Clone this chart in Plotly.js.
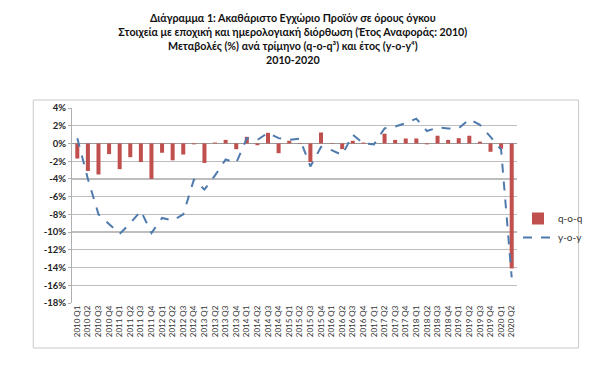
<!DOCTYPE html>
<html><head><meta charset="utf-8">
<script src="https://cdn.plot.ly/plotly-3.0.1.min.js"></script>
<style>html,body{margin:0;padding:0;background:#fff}#chart{width:600px;height:370px}</style>
</head><body><div id="chart"></div>
<script>
const quarters = ["2010 Q1","2010 Q2","2010 Q3","2010 Q4","2011 Q1","2011 Q2","2011 Q3","2011 Q4",
"2012 Q1","2012 Q2","2012 Q3","2012 Q4","2013 Q1","2013 Q2","2013 Q3","2013 Q4",
"2014 Q1","2014 Q2","2014 Q3","2014 Q4","2015 Q1","2015 Q2","2015 Q3","2015 Q4",
"2016 Q1","2016 Q2","2016 Q3","2016 Q4","2017 Q1","2017 Q2","2017 Q3","2017 Q4",
"2018 Q1","2018 Q2","2018 Q3","2018 Q4","2019 Q1","2019 Q2","2019 Q3","2019 Q4",
"2020 Q1","2020 Q2"];
const qoq = [-1.7,-3.1,-3.5,-1.2,-2.9,-1.55,-2.1,-4.0,
-1.05,-1.9,-1.25,-0.1,-2.2,0.1,0.4,-0.65,
0.75,-0.2,1.2,-1.1,0.3,0.05,-2.1,1.24,
0.05,-0.64,0.3,0.1,0.02,1.1,0.4,0.56,
0.56,-0.1,0.87,0.4,0.6,0.87,0.2,-0.94,
-0.6,-14.1];
const yoy = [0.6,-4.0,-8.0,-9.1,-10.2,-9.0,-7.6,-10.1,
-8.4,-8.7,-8.0,-4.1,-5.2,-3.6,-1.8,-2.2,
0.6,0.4,1.2,0.6,0.4,0.55,-2.6,-0.4,
-0.75,-1.3,1.0,0.0,-0.1,1.7,1.9,2.3,
2.8,1.4,1.8,1.7,1.7,2.75,2.1,0.75,
-0.7,-15.1];
const yTickVals = [4,2,0,-2,-4,-6,-8,-10,-12,-14,-16,-18];
const yTickText = ["4%","2%","0%","-2%","-4%","-6%","-8%","-10%","-12%","-14%","-16%","-18%"];
const titleText = "<b>Διάγραμμα 1: Ακαθάριστο Εγχώριο Προϊόν σε όρους όγκου<br>Στοιχεία με εποχική και ημερολογιακή διόρθωση (Έτος Αναφοράς: 2010)<br>Μεταβολές (%) ανά τρίμηνο (q-o-q³) και έτος (y-o-y⁴)<br>2010-2020</b>";

const traces = [
  {type:"bar", x:quarters, y:qoq, name:"q-o-q", marker:{color:"#C0504D"}},
  {type:"scatter", mode:"lines", x:quarters, y:yoy, name:"y-o-y",
   line:{color:"#4F7AAD", width:2, dash:"dash"}}
];
const L=72,R=520,T=108,B=303;
const pw=R-L, ph=B-T;
const layout = {
  width:600, height:370,
  margin:{l:L, r:600-R, t:T, b:370-B},
  paper_bgcolor:"#fff", plot_bgcolor:"#fff",
  font:{family:"Lato, 'Open Sans', sans-serif", color:"#222"},
  title:{text:titleText, font:{size:10.7, color:"#111", family:"Lato, 'Open Sans', sans-serif"},
         x:0.488, xanchor:"center", xref:"container", y:1-22/370, yanchor:"top", yref:"container"},
  bargap:0.62,
  showlegend:true,
  legend:{x:(521-L)/pw, xanchor:"left", y:(B-204)/ph, yanchor:"top",
          font:{size:10, color:"#333"}, bgcolor:"rgba(0,0,0,0)", tracegroupgap:4, itemwidth:30},
  xaxis:{type:"category", tickangle:-90, tickfont:{size:8, color:"#333"},
         showgrid:false, showline:false, ticks:"", automargin:false},
  yaxis:{range:[-18,4], tickvals:yTickVals, ticktext:yTickText,
         tickfont:{size:9.5, color:"#222", family:"Lato, 'Open Sans', sans-serif", weight:"bold"},
         showgrid:true, gridcolor:"#bdbdbd", gridwidth:1.2,
         zeroline:true, zerolinecolor:"#9a9a9a", zerolinewidth:1.2,
         showline:true, linecolor:"#b0b0b0", linewidth:1, ticks:"outside", ticklen:3, tickcolor:"#b0b0b0",
         automargin:false},
  shapes:[{type:"rect", xref:"paper", yref:"paper",
           x0:(33-L)/pw, x1:(582-L)/pw, y0:(B-348)/ph, y1:(B-100)/ph,
           line:{color:"#c8c8c8", width:1}, fillcolor:"rgba(0,0,0,0)", layer:"below"}]
};
Plotly.newPlot("chart", traces, layout, {displayModeBar:false, staticPlot:true});
</script></body></html>
